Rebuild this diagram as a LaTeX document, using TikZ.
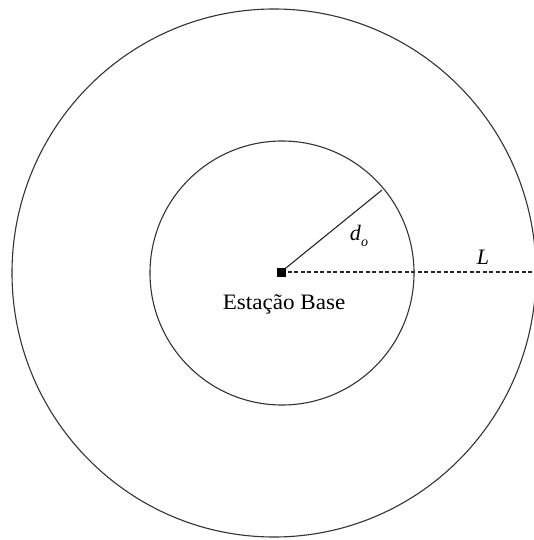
\documentclass[tikz,border=0pt]{standalone}
\usepackage{fontspec}
\setmainfont{Liberation Serif}
\usetikzlibrary{calc}
\begin{document}
\begin{tikzpicture}[x=1pt,y=-1pt,
  ring/.style={draw=black!80,line width=1.1pt},
  lbl/.style={font=\fontsize{22}{25}\selectfont,inner sep=0pt},
  radius line/.style={draw=black!85,line width=1.1pt}]
\useasboundingbox (0,0) rectangle (534,540);
\coordinate (c) at (281,272);
\draw[ring] (274,273) ellipse [x radius=262,y radius=264];
\draw[ring] (282,273) circle [radius=132];
\coordinate (rim) at ($(c)+(101,-82)$);
\coordinate (edge) at (534,272);
\draw[radius line] (c) -- (rim);
\draw[radius line,dash pattern=on 4pt off 2.5pt] (c) -- (edge);
\node[fill=black,minimum size=9pt,inner sep=0pt] (bs) at (c) {};
\node[lbl,xscale=1.05] (name) at (284,304) {Estação Base};
\node[lbl] (d) at (359,236) {\textit{d}\raisebox{-0.25em}{\fontsize{14}{16}\selectfont\textit{o}}};
\node[lbl] (L) at (483,257) {\textit{L}};
\end{tikzpicture}
\end{document}
